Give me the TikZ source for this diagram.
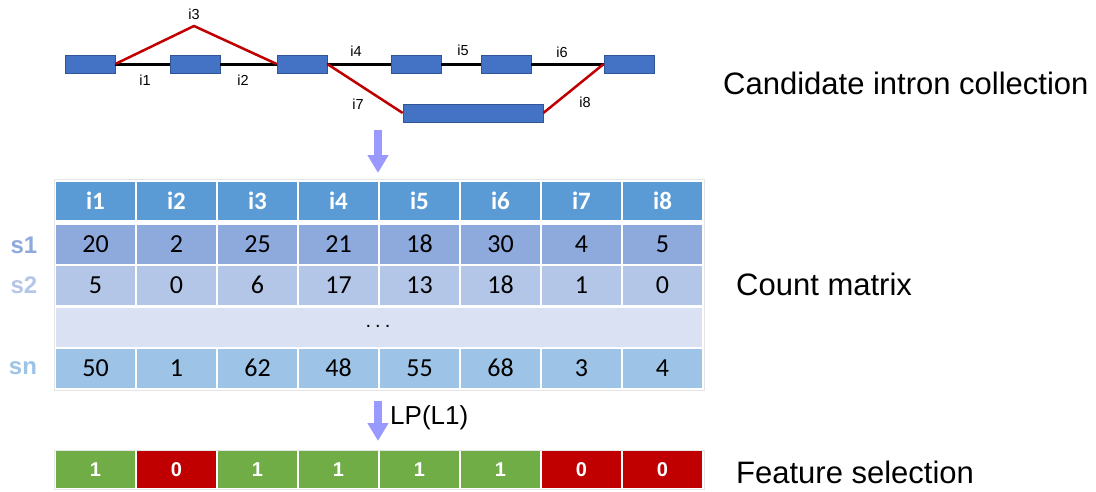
\documentclass[tikz,border=0pt]{standalone}
\usepackage{fontspec}
\setmainfont{Liberation Sans}
\newfontfamily\carl[Numbers={Lining,Monospaced}]{Carlito}
\usetikzlibrary{arrows.meta}
\definecolor{exonblue}{HTML}{4472C4}
\definecolor{exonedge}{HTML}{2F5597}
\definecolor{altred}{HTML}{C00000}
\definecolor{hdr}{HTML}{5B9BD5}
\definecolor{rowA}{HTML}{8EA9DB}
\definecolor{rowB}{HTML}{B4C6E7}
\definecolor{rowC}{HTML}{D9E1F2}
\definecolor{rowD}{HTML}{9DC3E6}
\definecolor{selgreen}{HTML}{70AD47}
\definecolor{selred}{HTML}{C00000}
\definecolor{arrowc}{HTML}{9999FF}
\begin{document}
\begin{tikzpicture}[x=1pt,y=-1pt,
  exon/.style={rectangle,fill=exonblue,draw=exonedge,line width=0.6pt,minimum height=18pt,minimum width=50pt,inner sep=0pt},
  intron/.style={line width=3pt,black},
  alt/.style={line width=2.5pt,altred,line join=round},
  ilab/.style={font=\fontsize{14.5}{16}\selectfont,inner sep=0pt},
  big/.style={font=\fontsize{31}{36}\selectfont,anchor=west,inner sep=0pt},
  cell/.style={rectangle,minimum width=79pt,minimum height=39pt,inner sep=0pt,text height=16.5pt,text depth=0pt,font=\carl\fontsize{26}{30}\selectfont},
  hcell/.style={cell,minimum height=38pt,fill=hdr,text=white,font=\carl\bfseries\fontsize{25}{30}\selectfont},
  scell/.style={cell,minimum height=37pt,text height=14pt,text=white,font=\bfseries\fontsize{20}{24}\selectfont},
  slab/.style={font=\bfseries\fontsize{24}{28}\selectfont,inner sep=0pt},
  bigarrow/.style={line width=8pt,arrowc,-{Triangle[width=20pt,length=18pt]}}
]
\useasboundingbox (0,0) rectangle (1096,491);
\fill[white] (0,0) rectangle (1096,491);

% gene structure
\node[exon] (e1) at (90,64) {};
\node[exon] (e2) at (195,64) {};
\node[exon] (e3) at (302,64) {};
\node[exon] (e4) at (416,64) {};
\node[exon] (e5) at (506,64) {};
\node[exon] (e6) at (629,64) {};
\node[exon,minimum width=140pt] (e7) at (473,113) {};
\coordinate (i3top) at (194,26);

\draw[intron] (e1.east) -- (e2.west);
\draw[intron] (e2.east) -- (e3.west);
\draw[intron] (e3.east) -- (e4.west);
\draw[intron] (e4.east) -- (e5.west);
\draw[intron] (e5.east) -- (e6.west);
\draw[alt] (e1.east) -- (i3top) -- (e3.west);
\draw[alt] (e3.east) -- (e7.west);
\draw[alt] (e7.east) -- (e6.west);

\node[ilab] (l1) at (145,80) {i1};
\node[ilab] (l2) at (243,80) {i2};
\node[ilab] (l3) at (194,14) {i3};
\node[ilab] (l4) at (356,51) {i4};
\node[ilab] (l5) at (463,50) {i5};
\node[ilab] (l6) at (562,52) {i6};
\node[ilab] (l7) at (358,104) {i7};
\node[ilab] (l8) at (585,102) {i8};

\node[big] (t1) at (723,83) {Candidate intron collection};

% arrow 1
\coordinate (a1s) at (378,130);
\coordinate (a1e) at (378,173);
\draw[bigarrow] (a1s) -- (a1e);

% table
\draw[black!10,line width=0.5pt] (54,179) rectangle (704,390);
\foreach \lab [count=\k] in {i1,i2,i3,i4,i5,i6,i7,i8}
  \node[hcell] (h\k) at ({14.5+81*\k},201) {\lab};
\foreach \v [count=\k] in {20,2,25,21,18,30,4,5}
  \node[cell,fill=rowA] (a\k) at ({14.5+81*\k},244.5) {\v};
\foreach \v [count=\k] in {5,0,6,17,13,18,1,0}
  \node[cell,fill=rowB] (b\k) at ({14.5+81*\k},285.5) {\v};
\node[cell,fill=rowC,minimum width=646pt] (dots) at (379,327) {};
\node[font=\fontsize{20}{22}\selectfont,inner sep=0pt] (dd) at (378,326) {.\hspace{4pt}.\hspace{4pt}.};
\foreach \v [count=\k] in {50,1,62,48,55,68,3,4}
  \node[cell,fill=rowD] (c\k) at ({14.5+81*\k},368) {\v};

\node[slab,text=rowA] (s1) at (24,245) {s1};
\node[slab,text=rowB] (s2) at (24,285) {s2};
\node[slab,text=rowD] (sn) at (23,368) {sn};

\node[big] (t2) at (736,284) {Count matrix};

% arrow 2
\coordinate (a2s) at (378,401);
\coordinate (a2e) at (378,441);
\draw[bigarrow] (a2s) -- (a2e);
\node[font=\fontsize{26}{30}\selectfont,anchor=west,inner sep=0pt] (lp) at (390,418) {LP(L1)};

% selection bar
\draw[black!10,line width=0.5pt] (54,450) rectangle (704,489);
\foreach \v/\c [count=\k] in {1/selgreen,0/selred,1/selgreen,1/selgreen,1/selgreen,1/selgreen,0/selred,0/selred}
  \node[scell,fill=\c] (f\k) at ({14.5+81*\k},469.5) {\v};

\node[big] (t3) at (736,472) {Feature selection};
\end{tikzpicture}
\end{document}
